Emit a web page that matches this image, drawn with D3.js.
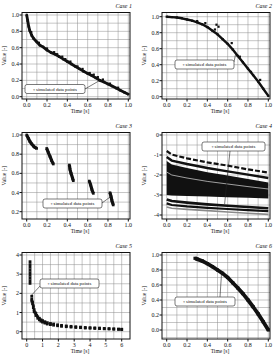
<!DOCTYPE html>
<meta charset="utf-8">
<style>
body { margin: 0; background: #fff; }
text { font-family: "Liberation Serif", "DejaVu Serif", serif; fill: #111; }
.grid line { stroke: #8c8c8c; stroke-width: 0.5; }
.frame { fill: none; stroke: #111; stroke-width: 1; }
</style>
<svg width="279" height="358"></svg>
<script src="https://d3js.org/d3.v7.min.js"></script>
<script>

var svg = d3.select("svg");

// tick values / labels
var unitTicks = [0, 0.2, 0.4, 0.6, 0.8, 1.0];
var unitLabels = ["0.0", "0.2", "0.4", "0.6", "0.8", "1.0"];
var p3Ticks = [0.2, 0.4, 0.6, 0.8, 1.0];
var p3Labels = ["0.2", "0.4", "0.6", "0.8", "1.0"];
var p4Ticks = [0, -1, -2, -3, -4];
var p4Labels = ["0", "-1", "-2", "-3", "-4"];
var p5xTicks = [0, 1, 2, 3, 4, 5, 6];
var p5yTicks = [0, 1, 2, 3, 4];

var titles = ["Case 1", "Case 2", "Case 3", "Case 4", "Case 5", "Case 6"];
var legendText = "\u25AB simulated data points";

// panel 1
var p1Curve = [[0,1.0],[0.01,0.93],[0.02,0.86],[0.03,0.81],[0.05,0.75],[0.07,0.71],[0.1,0.67],[0.13,0.63],[0.16,0.61],
  [0.2,0.57],[0.24,0.54],[0.28,0.52],[0.32,0.49],[0.36,0.46],[0.4,0.43],[0.44,0.40],[0.48,0.37],[0.52,0.34],[0.56,0.31],
  [0.6,0.285],[0.64,0.26],[0.68,0.23],[0.72,0.20],[0.76,0.18],[0.8,0.155],[0.84,0.13],[0.88,0.105],[0.92,0.08],[0.96,0.055],[1.0,0.03]];
var p1Scatter = [[0.12,0.66],[0.2,0.59],[0.3,0.52],[0.35,0.49],[0.38,0.46],[0.43,0.43],[0.5,0.37],[0.55,0.34],[0.62,0.29],
  [0.66,0.27],[0.7,0.24],[0.75,0.21],[0.82,0.16],[0.9,0.11],[0.045,0.79],[0.27,0.545]];

// panel 2
var p2Curve = [[0,1.0],[0.05,0.995],[0.1,0.99],[0.15,0.98],[0.2,0.965],[0.25,0.95],[0.3,0.93],[0.35,0.905],[0.4,0.87],
  [0.45,0.825],[0.5,0.78],[0.55,0.72],[0.6,0.66],[0.65,0.59],[0.7,0.51],[0.75,0.43],[0.8,0.35],[0.85,0.27],[0.9,0.19],[0.95,0.1],[1.0,0.01]];
var p2Scatter = [[0.38,0.92],[0.49,0.9],[0.51,0.875],[0.475,0.84],[0.64,0.67],[0.92,0.21],[0.3,0.945],[0.72,0.5],[0.83,0.31]];

// panel 3 (five segments)
var p3Segments = [
  [[0,1.0],[0.016,0.965],[0.033,0.93],[0.05,0.906],[0.066,0.885],[0.082,0.87],[0.098,0.86]],
  [[0.197,0.86],[0.213,0.816],[0.23,0.774],[0.246,0.732],[0.262,0.697]],
  [[0.42,0.687],[0.426,0.642],[0.436,0.6],[0.452,0.548],[0.459,0.523]],
  [[0.616,0.52],[0.63,0.478],[0.643,0.426],[0.656,0.391]],
  [[0.82,0.398],[0.83,0.357],[0.839,0.315],[0.852,0.27]]
];

// panel 4 (families of curves)
var p4X = [0, 0.05, 0.2, 0.4, 0.6, 0.8, 1.0];
var p4Dashed = [-0.8, -0.98, -1.17, -1.37, -1.53, -1.72, -1.88];
var p4Upper = [-1.1, -1.28, -1.45, -1.65, -1.82, -1.98, -2.15];
var p4BandTop = [-1.3, -1.47, -1.65, -1.86, -2.03, -2.2, -2.37];
var p4BandBottom = [-3.0, -3.02, -3.05, -3.08, -3.11, -3.14, -3.17];
var p4White = [-1.85, -2.0, -2.15, -2.32, -2.45, -2.58, -2.7];
var p4LowerA = [-3.22, -3.3, -3.38, -3.47, -3.54, -3.6, -3.66];
var p4LowerB = [-3.42, -3.5, -3.57, -3.64, -3.7, -3.76, -3.81];
var p4Gray = [-3.6, -3.66, -3.72, -3.78, -3.85, -3.91, -3.97];

// panel 5
var p5Column = [[0.21,3.65],[0.21,3.5],[0.21,3.36],[0.21,3.22],[0.21,3.08],[0.21,2.94],[0.21,2.8],[0.21,2.66],[0.21,2.52]];
var p5Points = [[0.32,1.85],[0.32,1.7],[0.32,1.6],[0.37,1.55],[0.37,1.45],[0.42,1.35],[0.42,1.25],[0.47,1.15],[0.47,1.05],
  [0.53,1.0],[0.58,0.95],[0.58,0.85],[0.63,0.85],[0.7,0.78],[0.7,0.7],[0.8,0.7],[0.8,0.62],[0.9,0.62],[0.9,0.55],[1.0,0.58],
  [1.0,0.5],[1.15,0.52],[1.15,0.45],[1.3,0.47],[1.3,0.4],[1.5,0.43],[1.5,0.37],[1.7,0.4],[1.7,0.34],[1.95,0.36],[1.95,0.31],
  [2.2,0.33],[2.2,0.28],[2.5,0.3],[2.5,0.26],[2.8,0.28],[2.8,0.24],[3.1,0.26],[3.1,0.22],[3.4,0.24],[3.4,0.21],[3.7,0.22],
  [3.7,0.19],[4.0,0.21],[4.0,0.18],[4.3,0.2],[4.3,0.17],[4.6,0.19],[4.6,0.16],[4.9,0.17],[4.9,0.15],[5.2,0.16],[5.2,0.14],
  [5.5,0.15],[5.5,0.13],[5.8,0.14],[5.8,0.12],[6.0,0.13],[6.0,0.11]];

// panel 6
var p6Curve = [[0.279,0.956],[0.3,0.945],[0.35,0.92],[0.4,0.885],[0.45,0.845],[0.5,0.8],[0.55,0.755],[0.6,0.7],[0.65,0.63],
  [0.7,0.56],[0.75,0.485],[0.8,0.4],[0.85,0.31],[0.9,0.215],[0.95,0.11],[1.0,0.0]];

var line = d3.line();

function panel(o) {
  var g = svg.append("g").attr("transform", "translate(" + o.ox + "," + o.oy + ")");
  var L = 22, R = 130, T = 12.5, B = 99;
  var x = d3.scaleLinear().domain(o.xd).range([26.7, o.xr || 128.3]);
  var y = d3.scaleLinear().domain(o.yd).range(o.yr);

  var grid = g.append("g").attr("class", "grid");
  grid.selectAll(".v").data(o.xGrid.filter(d => x(d) > L + 0.5 && x(d) < R - 0.5)).enter().append("line")
    .attr("x1", d => x(d)).attr("x2", d => x(d)).attr("y1", T).attr("y2", B);
  grid.selectAll(".h").data(o.yGrid.filter(d => y(d) > T + 0.5 && y(d) < B - 0.5)).enter().append("line")
    .attr("y1", d => y(d)).attr("y2", d => y(d)).attr("x1", L).attr("x2", R);

  g.append("rect").attr("class", "frame").attr("x", L).attr("y", T).attr("width", R - L).attr("height", B - T);

  // ticks
  g.selectAll(".xt").data(o.xTicks).enter().append("line")
    .attr("x1", d => x(d)).attr("x2", d => x(d)).attr("y1", B).attr("y2", B + 2.5).attr("stroke", "#111");
  g.selectAll(".yt").data(o.yTicks).enter().append("line")
    .attr("y1", d => y(d)).attr("y2", d => y(d)).attr("x1", L - 2.5).attr("x2", L).attr("stroke", "#111");
  g.selectAll(".xl").data(o.xTicks).enter().append("text")
    .attr("x", d => x(d)).attr("y", B + 8).attr("text-anchor", "middle").attr("font-size", 6)
    .text((d, i) => o.xLabels[i]);
  g.selectAll(".yl").data(o.yTicks).enter().append("text")
    .attr("x", L - 3).attr("y", d => y(d) + 2).attr("text-anchor", "end").attr("font-size", 6)
    .text((d, i) => o.yLabels[i]);

  g.append("text").attr("x", 80).attr("y", B + 13.5).attr("text-anchor", "middle").attr("font-size", 5.5).text("Time [s]");
  g.append("text").attr("transform", "translate(6," + ((T + B) / 2) + ") rotate(-90)")
    .attr("text-anchor", "middle").attr("font-size", 5.5).text("Value [-]");
  g.append("text").attr("x", R + 2).attr("y", 8).attr("text-anchor", "end").attr("font-size", 6)
    .attr("font-style", "italic").text(o.title);

  var plot = g.append("g");
  o.draw(plot, x, y);

  // legend with leader
  var lg = o.legend;
  g.append("line").attr("x1", lg.lx).attr("y1", lg.ly).attr("x2", x(lg.target[0])).attr("y2", y(lg.target[1]))
    .attr("stroke", "#222").attr("stroke-width", 0.6);
  g.append("rect").attr("x", lg.x).attr("y", lg.y).attr("width", lg.w).attr("height", 9).attr("rx", 2)
    .attr("fill", "#fff").attr("stroke", "#222").attr("stroke-width", 0.6);
  g.append("text").attr("x", lg.x + lg.w / 2).attr("y", lg.y + 6.2).attr("text-anchor", "middle")
    .attr("font-size", 4.8).text(legendText);
}

function curveDots(p, x, y, pts, w, r) {
  p.append("path").attr("d", line(pts.map(d => [x(d[0]), y(d[1])])))
    .attr("fill", "none").attr("stroke", "#111").attr("stroke-width", w).attr("stroke-linejoin", "round");
  dots(p, x, y, pts, r);
}

function dots(p, x, y, pts, r) {
  p.selectAll(null).data(pts).enter().append("rect")
    .attr("x", d => x(d[0]) - r).attr("y", d => y(d[1]) - r).attr("width", 2 * r).attr("height", 2 * r).attr("fill", "#111");
}

var unitGrid = d3.range(0, 11).map(i => i / 10);

panel({ ox: 0, oy: 0, xd: [0, 1], yd: [0, 1], yr: [96.7, 15],
  xTicks: unitTicks, xLabels: unitLabels, yTicks: unitTicks, yLabels: unitLabels,
  xGrid: unitGrid, yGrid: unitGrid, title: titles[0],
  legend: { x: 25, y: 84.5, w: 60, lx: 85, ly: 89, target: [0.72, 0.2] },
  draw: function (p, x, y) { curveDots(p, x, y, p1Curve, 2.8, 1.2); dots(p, x, y, p1Scatter, 1.1); }
});

panel({ ox: 140, oy: 0, xd: [0, 1], yd: [0, 1], yr: [96.7, 16.7],
  xTicks: unitTicks, xLabels: unitLabels, yTicks: unitTicks, yLabels: unitLabels,
  xGrid: unitGrid, yGrid: unitGrid, title: titles[1],
  legend: { x: 35, y: 60, w: 59, lx: 94, ly: 62, target: [0.68, 0.545] },
  draw: function (p, x, y) { curveDots(p, x, y, p2Curve, 2.4, 1.1); dots(p, x, y, p2Scatter, 1.1); }
});

panel({ ox: 0, oy: 120, xd: [0, 1], yd: [0.2, 1.0], yr: [91.7, 15],
  xTicks: unitTicks, xLabels: unitLabels, yTicks: p3Ticks, yLabels: p3Labels,
  xGrid: unitGrid, yGrid: d3.range(1, 11).map(i => i / 10), title: titles[2],
  legend: { x: 43, y: 79, w: 59, lx: 102, ly: 83, target: [0.83, 0.36] },
  draw: function (p, x, y) { p3Segments.forEach(s => curveDots(p, x, y, s, 3.2, 1.3)); }
});

panel({ ox: 140, oy: 120, xd: [0, 1], yd: [0, -4], yr: [15, 95],
  xTicks: unitTicks, xLabels: unitLabels, yTicks: p4Ticks, yLabels: p4Labels,
  xGrid: unitGrid, yGrid: d3.range(0, 9).map(i => -i / 2), title: titles[3],
  legend: { x: 62, y: 22, w: 63, lx: 90, ly: 31, target: [0.57, -3.45] },
  draw: function (p, x, y) {
    var c = (ys) => p4X.map((v, i) => [x(v), y(ys[i])]);
    var area = d3.area().x((d, i) => x(p4X[i])).y0((d, i) => y(p4BandBottom[i])).y1(d => y(d));
    p.append("path").attr("d", area(p4BandTop)).attr("fill", "#111");
    p.append("path").attr("d", line(c(p4White))).attr("fill", "none").attr("stroke", "#fff").attr("stroke-width", 0.6);
    p.append("path").attr("d", line(c(p4Dashed))).attr("fill", "none").attr("stroke", "#111").attr("stroke-width", 2.2).attr("stroke-dasharray", "5,2");
    p.append("path").attr("d", line(c(p4Upper))).attr("fill", "none").attr("stroke", "#111").attr("stroke-width", 2.4);
    p.append("path").attr("d", line(c(p4LowerA))).attr("fill", "none").attr("stroke", "#111").attr("stroke-width", 2.6);
    p.append("path").attr("d", line(c(p4LowerB))).attr("fill", "none").attr("stroke", "#111").attr("stroke-width", 2.2);
    p.append("path").attr("d", line(c(p4Gray))).attr("fill", "none").attr("stroke", "#8a8a8a").attr("stroke-width", 1.6);
  }
});

panel({ ox: 0, oy: 240, xd: [0, 6], xr: 121.7, yd: [0, 4], yr: [91.7, 15],
  xTicks: p5xTicks, xLabels: p5xTicks.map(String), yTicks: p5yTicks, yLabels: p5yTicks.map(String),
  xGrid: d3.range(0, 13).map(i => i / 2), yGrid: d3.range(0, 9).map(i => i / 2), title: titles[4],
  legend: { x: 40, y: 39, w: 59, lx: 41, ly: 45, target: [0.3, 1.9] },
  draw: function (p, x, y) { dots(p, x, y, p5Column.concat(p5Points), 1.4); }
});

panel({ ox: 140, oy: 240, xd: [0, 1], yd: [0, 1], yr: [90, 15],
  xTicks: unitTicks, xLabels: unitLabels, yTicks: unitTicks, yLabels: unitLabels,
  xGrid: unitGrid, yGrid: d3.range(-1, 11).map(i => i / 10), title: titles[5],
  legend: { x: 35, y: 57, w: 60, lx: 80, ly: 57, target: [0.54, 0.765] },
  draw: function (p, x, y) { curveDots(p, x, y, p6Curve, 3.8, 1.6); }
});

</script>
